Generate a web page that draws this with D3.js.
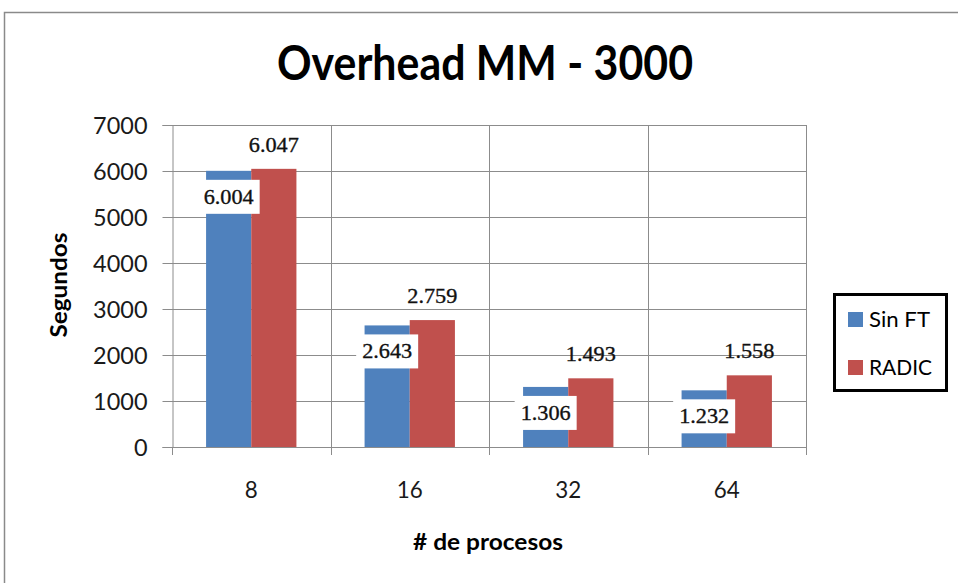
<!DOCTYPE html>
<html>
<head>
<meta charset="utf-8">
<script src="https://cdn.jsdelivr.net/npm/d3@7/dist/d3.min.js"></script>
<style>
  html, body { margin: 0; padding: 0; background: #fff; }
  svg { display: block; }
</style>
</head>
<body>
<svg id="chart" width="958" height="583"></svg>
<script>
// Overhead of the MM (3000) run, in seconds, per number of processes
const categories = ["8", "16", "32", "64"];
const seriesNames = ["Sin FT", "RADIC"];
const sinFT = [6004, 2643, 1306, 1232];
const radic = [6047, 2759, 1493, 1558];
const yTicks = [0, 1000, 2000, 3000, 4000, 5000, 6000, 7000];
const colors = ["#4F81BD", "#C0504D"];

const svg = d3.select("#chart");
const W = 958, H = 583;
const m = { left: 172, right: 806, top: 125, bottom: 447 };
const sans = "Lato, 'Open Sans', sans-serif";
const labelFont = "'Liberation Serif', 'DejaVu Serif', serif";

// chart frame
svg.append("rect")
  .attr("x", 4.5).attr("y", 12.5)
  .attr("width", W + 10).attr("height", H + 10)
  .attr("fill", "#fff").attr("stroke", "#8a8a8a").attr("stroke-width", 1.5);

const x = d3.scaleBand().domain(categories).range([m.left, m.right]).padding(0);
// the two bars of a group take the middle ~57% of each category
const inner = d3.scaleBand().domain(seriesNames)
  .range([x.bandwidth() * 0.215, x.bandwidth() * 0.785]).padding(0);
const y = d3.scaleLinear().domain([0, 7000]).range([m.bottom, m.top]);

const grid = "#8c8c8c";

// horizontal gridlines
svg.append("g").selectAll("line").data(yTicks.filter(d => d > 0)).join("line")
  .attr("x1", m.left).attr("x2", m.right)
  .attr("y1", d => Math.round(y(d)) + 0.5).attr("y2", d => Math.round(y(d)) + 0.5)
  .attr("stroke", grid).attr("stroke-width", 1);

// vertical gridlines at category boundaries
const bounds = categories.map(c => x(c)).concat([m.right]);
svg.append("g").selectAll("line").data(bounds.slice(1)).join("line")
  .attr("x1", d => Math.round(d) + 0.5).attr("x2", d => Math.round(d) + 0.5)
  .attr("y1", m.top).attr("y2", m.bottom)
  .attr("stroke", grid).attr("stroke-width", 1);

// y axis
const yAxis = svg.append("g")
  .attr("transform", `translate(${m.left + 0.5},0)`)
  .call(d3.axisLeft(y).tickValues(yTicks).tickSize(10).tickPadding(15).tickFormat(d3.format("d")));
yAxis.select(".domain").attr("stroke", grid);
yAxis.selectAll(".tick line").attr("stroke", grid);
yAxis.selectAll(".tick text")
  .attr("font-family", sans).attr("font-size", 23).attr("fill", "#1a1a1a")
  .attr("dy", "0.36em")
  .attr("textLength", d => String(d).length * 13.6)
  .attr("lengthAdjust", "spacingAndGlyphs");

// x axis line and boundary ticks
svg.append("line")
  .attr("x1", m.left).attr("x2", m.right)
  .attr("y1", m.bottom + 0.5).attr("y2", m.bottom + 0.5)
  .attr("stroke", grid);
svg.append("g").selectAll("line").data(bounds).join("line")
  .attr("x1", d => Math.round(d) + 0.5).attr("x2", d => Math.round(d) + 0.5)
  .attr("y1", m.bottom).attr("y2", m.bottom + 8)
  .attr("stroke", grid);
svg.append("g").selectAll("text").data(categories).join("text")
  .attr("x", d => x(d) + x.bandwidth() / 2)
  .attr("y", 498)
  .attr("text-anchor", "middle")
  .attr("font-family", sans).attr("font-size", 24).attr("fill", "#1a1a1a")
  .attr("textLength", d => d.length * 13)
  .attr("lengthAdjust", "spacingAndGlyphs")
  .text(d => d);

// bars
const rows = categories.map((c, i) => ({ c, vals: [sinFT[i], radic[i]] }));
const groups = svg.append("g").selectAll("g").data(rows).join("g")
  .attr("transform", d => `translate(${x(d.c)},0)`);
groups.selectAll("rect").data(d => d.vals.map((v, j) => ({ v, s: seriesNames[j], j }))).join("rect")
  .attr("x", d => inner(d.s))
  .attr("width", inner.bandwidth())
  .attr("y", d => y(d.v))
  .attr("height", d => y(0) - y(d.v))
  .attr("fill", d => colors[d.j]);

const fmt = v => d3.format(",")(v).replace(/,/g, ".");

groups.each(function(d) {
  const g = d3.select(this);
  // Sin FT value: white box just inside the bar top
  const cx = inner(seriesNames[0]) + inner.bandwidth() / 2;
  const cy = y(d.vals[0]) + 26;
  g.append("rect")
    .attr("x", cx - 31).attr("y", cy - 17)
    .attr("width", 62).attr("height", 34)
    .attr("fill", "#fff");
  g.append("text")
    .attr("x", cx).attr("y", cy + 7)
    .attr("text-anchor", "middle")
    .attr("font-family", labelFont).attr("font-size", 21).attr("fill", "#111")
    .attr("stroke", "#111").attr("stroke-width", 0.35)
    .attr("textLength", 50).attr("lengthAdjust", "spacingAndGlyphs")
    .text(fmt(d.vals[0]));
  // RADIC value above the bar
  const rx = inner(seriesNames[1]) + inner.bandwidth() / 2;
  g.append("text")
    .attr("x", rx).attr("y", y(d.vals[1]) - 24 + 7)
    .attr("text-anchor", "middle")
    .attr("font-family", labelFont).attr("font-size", 21).attr("fill", "#111")
    .attr("stroke", "#111").attr("stroke-width", 0.35)
    .attr("textLength", 50).attr("lengthAdjust", "spacingAndGlyphs")
    .text(fmt(d.vals[1]));
});

// title
svg.append("text")
  .attr("x", 485).attr("y", 80)
  .attr("text-anchor", "middle")
  .attr("font-family", sans).attr("font-weight", "bold")
  .attr("font-size", 48).attr("fill", "#000")
  .attr("textLength", 416).attr("lengthAdjust", "spacingAndGlyphs")
  .text("Overhead MM - 3000");

// axis titles
svg.append("text")
  .attr("x", 488).attr("y", 550)
  .attr("text-anchor", "middle")
  .attr("font-family", sans).attr("font-weight", "bold")
  .attr("font-size", 23).attr("fill", "#000")
  .attr("textLength", 150).attr("lengthAdjust", "spacingAndGlyphs")
  .text("# de procesos");
svg.append("text")
  .attr("transform", "translate(67,285) rotate(-90)")
  .attr("text-anchor", "middle")
  .attr("font-family", sans).attr("font-weight", "bold")
  .attr("font-size", 23).attr("fill", "#000")
  .attr("textLength", 105).attr("lengthAdjust", "spacingAndGlyphs")
  .text("Segundos");

// legend
const lg = svg.append("g");
lg.append("rect")
  .attr("x", 834.5).attr("y", 294.5).attr("width", 112).attr("height", 96)
  .attr("fill", "#fff").attr("stroke", "#000").attr("stroke-width", 3);
const legendWidths = [61, 63];
seriesNames.forEach((s, i) => {
  const yy = 312 + i * 48;
  lg.append("rect").attr("x", 848).attr("y", yy).attr("width", 15).attr("height", 15).attr("fill", colors[i]);
  lg.append("text").attr("x", 869).attr("y", yy + 15)
    .attr("font-family", sans).attr("font-size", 21).attr("fill", "#000")
    .attr("textLength", legendWidths[i]).attr("lengthAdjust", "spacingAndGlyphs")
    .text(s);
});
</script>
</body>
</html>
